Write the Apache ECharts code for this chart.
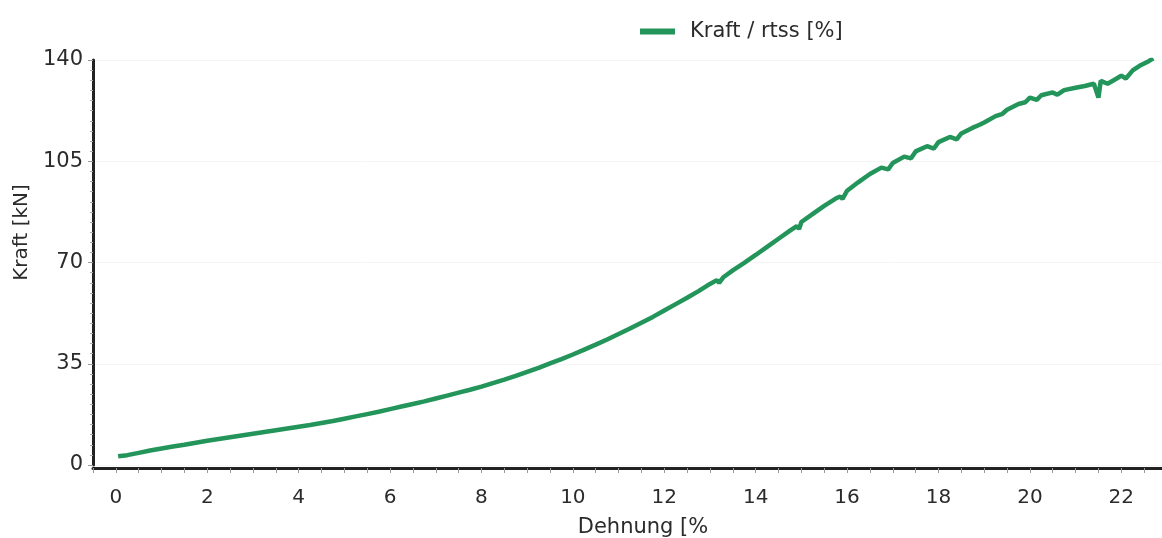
<!DOCTYPE html>
<html>
<head>
<meta charset="utf-8">
<title>Kraft / Dehnung</title>
<script src="https://cdn.jsdelivr.net/npm/echarts@6/dist/echarts.min.js"></script>
<style>
  html, body { margin: 0; padding: 0; background: #fff; }
  #chart { width: 1162px; height: 538px; }
</style>
</head>
<body>
<div id="chart"></div>
<script>
// strain [%] and force [kN]
const dehnung = [
  0.05, 0.25, 0.5, 0.75, 1.0, 1.25, 1.5, 1.75, 2.0, 2.25, 2.5, 2.75, 3.0, 3.25, 3.5, 3.75,
  4.0, 4.25, 4.5, 4.75, 5.0, 5.25, 5.5, 5.75, 6.0, 6.25, 6.5, 6.75, 7.0, 7.25, 7.5, 7.75,
  8.0, 8.25, 8.5, 8.75, 9.0, 9.25, 9.5, 9.75, 10.0, 10.25, 10.5, 10.75, 11.0, 11.25, 11.5, 11.75,
  12.0, 12.25, 12.5, 12.75, 13.0, 13.15, 13.2, 13.3, 13.5, 13.75, 14.0, 14.25, 14.5, 14.75,
  14.9, 14.95, 15.0, 15.25, 15.5, 15.75, 15.85, 15.9, 16.0, 16.25, 16.5, 16.75, 16.9, 17.0,
  17.25, 17.4, 17.5, 17.75, 17.9, 18.0, 18.25, 18.4, 18.5, 18.75, 18.9, 19.0, 19.25, 19.4,
  19.5, 19.75, 19.9, 20.0, 20.15, 20.25, 20.5, 20.6, 20.75, 21.0, 21.2, 21.4, 21.5, 21.55,
  21.7, 21.9, 22.0, 22.1, 22.25, 22.4, 22.6, 22.7
]
const kraft = [
  3.0, 3.4, 4.2, 5.0, 5.7, 6.4, 7.0, 7.7, 8.4, 9.0, 9.6, 10.2, 10.8, 11.4, 12.0, 12.6,
  13.2, 13.8, 14.5, 15.2, 16.0, 16.8, 17.6, 18.4, 19.3, 20.2, 21.1, 22.0, 23.0, 24.0, 25.0, 26.0,
  27.1, 28.3, 29.5, 30.8, 32.2, 33.6, 35.1, 36.6, 38.2, 39.9, 41.6, 43.4, 45.3, 47.2, 49.2, 51.2,
  53.4, 55.6, 57.8, 60.1, 62.6, 63.9, 63.0, 65.0, 67.3, 69.9, 72.6, 75.4, 78.2, 81.0,
  82.6, 81.6, 84.0, 86.8, 89.6, 92.1, 92.8, 92.0, 94.8, 97.8, 100.6, 102.8, 102.2, 104.4,
  106.6, 106.0, 108.4, 110.2, 109.4, 111.6, 113.4, 112.6, 114.6, 116.6, 117.6, 118.4, 120.6, 121.4,
  122.8, 124.8, 125.4, 127.0, 126.2, 127.8, 128.8, 128.0, 129.6, 130.4, 131.0, 131.8, 127.0, 132.8,
  131.8, 133.6, 134.6, 133.6, 136.4, 138.0, 139.6, 140.6
]
const yTicks = [0, 35, 70, 105, 140]

const chart = echarts.init(document.getElementById('chart'))

const font = 'DejaVu Sans'

const option = {
  animation: false,
  textStyle: { fontFamily: font },
  legend: {
    data: ['Kraft / rtss [%]'],
    left: 635,
    top: 16,
    itemWidth: 35,
    itemHeight: 6,
    icon: 'rect',
    textStyle: {
      fontFamily: font,
      fontSize: 21,
      color: '#2b2b2b',
      padding: [0, 0, 0, 10]
    }
  },
  grid: {
    left: 93,
    right: -5,
    top: 60,
    bottom: 73,
    outerBoundsMode: 'none'
  },
  xAxis: {
    type: 'value',
    min: -0.5,
    max: 23,
    interval: 0.5,
    offset: 3,
    name: 'Dehnung [%',
    nameLocation: 'middle',
    nameGap: 49,
    nameTextStyle: { fontFamily: font, fontSize: 21, color: '#2b2b2b', padding: [0, 0, 0, 26] },
    axisLine: { onZero: false, lineStyle: { color: '#222', width: 3 } },
    axisTick: { length: 5, lineStyle: { color: '#999', width: 1 } },
    axisLabel: {
      fontFamily: font,
      fontSize: 20,
      color: '#2b2b2b',
      margin: 20,
      formatter: v => (Math.abs(v % 2) < 1e-9 && v >= 0 ? String(v) : '')
    },
    splitLine: { show: false }
  },
  yAxis: {
    type: 'value',
    min: 0,
    max: 140,
    interval: 35,
    name: 'Kraft [kN]',
    nameLocation: 'middle',
    nameGap: 58,
    nameTextStyle: { fontFamily: font, fontSize: 20, color: '#2b2b2b', padding: [0, 0, 0, 60] },
    axisLine: { show: true, onZero: false, lineStyle: { color: '#222', width: 3 } },
    axisTick: { show: true, length: 5, lineStyle: { color: '#999' } },
    minorTick: { show: true, splitNumber: 10, length: 3, lineStyle: { color: '#aaa' } },
    axisLabel: {
      fontFamily: font,
      fontSize: 21,
      color: '#2b2b2b',
      margin: 10,
      formatter: v => (yTicks.includes(v) ? String(v) : '')
    },
    splitLine: { show: true, lineStyle: { color: '#f5f5f5' } }
  },
  series: [
    {
      name: 'Kraft / rtss [%]',
      type: 'line',
      data: dehnung.map((d, i) => [d, kraft[i]]),
      showSymbol: false,
      lineStyle: { color: '#24955a', width: 4.5 },
      itemStyle: { color: '#24955a' }
    }
  ]
}

chart.setOption(option)
</script>
</body>
</html>
